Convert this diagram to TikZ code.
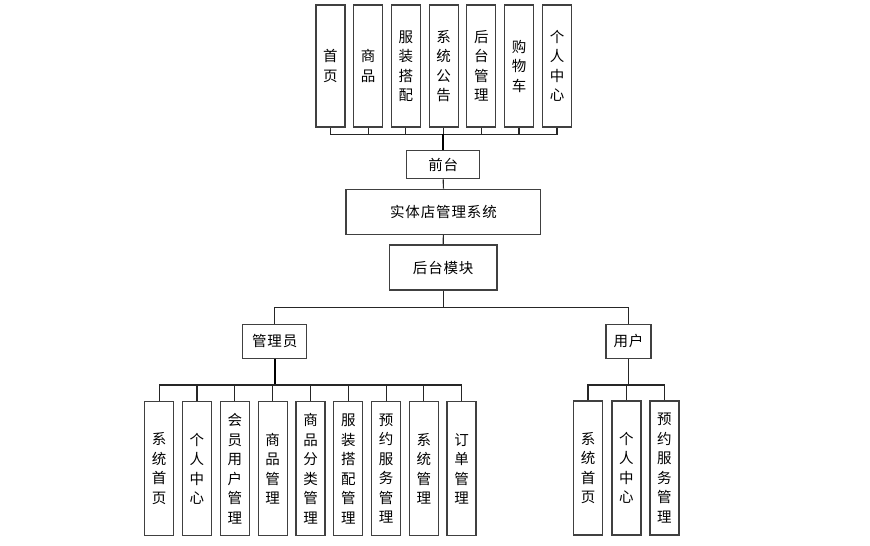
\documentclass[tikz,border=0pt]{standalone}
\usepackage{fontspec}
\newfontfamily\cjk{Noto Sans CJK SC}[LetterSpace=6]
\begin{document}
\begin{tikzpicture}[x=1pt,y=-1pt,
  box/.style={draw=black!75,line width=1.2pt,fill=white,inner sep=0pt,font=\cjk\fontsize{14.5}{19.5}\selectfont,align=center},
  vbox/.style={box,minimum width=29pt,minimum height=122pt},
  lbox/.style={box,minimum width=29pt,minimum height=134pt},
  conn/.style={draw=black!85,line width=1.2pt},
  thick conn/.style={draw=black,line width=1.8pt}]
\useasboundingbox (0,0) rectangle (870,546);
% top level
\node[vbox] (t1) at (330.4,66) {首\\页};
\node[vbox] (t2) at (368.1,66) {商\\品};
\node[vbox] (t3) at (405.8,66) {服\\装\\搭\\配};
\node[vbox] (t4) at (443.6,66) {系\\统\\公\\告};
\node[vbox] (t5) at (481.3,66) {后\\台\\管\\理};
\node[vbox] (t6) at (519.0,66) {购\\物\\车};
\node[vbox] (t7) at (557.0,66) {个\\人\\中\\心};
\node[box,minimum width=73pt,minimum height=28.5pt] (qt) at (443.3,164.6) {前台};
\node[box,minimum width=194.7pt,minimum height=45pt] (sys) at (443.4,211.8) {实体店管理系统};
\node[box,minimum width=107.7pt,minimum height=45pt] (ht) at (443.2,267.5) {后台模块};
\node[box,minimum width=64pt,minimum height=34pt] (adm) at (274.7,341.3) {管理员};
\node[box,minimum width=45pt,minimum height=34pt] (usr) at (628.5,341.3) {用户};
% admin children
\node[lbox] (a1) at (159.2,468.8) {系\\统\\首\\页};
\node[lbox] (a2) at (196.9,468.8) {个\\人\\中\\心};
\node[lbox] (a3) at (234.8,468.8) {会\\员\\用\\户\\管\\理};
\node[lbox] (a4) at (272.6,468.8) {商\\品\\管\\理};
\node[lbox] (a5) at (310.5,468.8) {商\\品\\分\\类\\管\\理};
\node[lbox] (a6) at (348.3,468.8) {服\\装\\搭\\配\\管\\理};
\node[lbox] (a7) at (386.2,468.8) {预\\约\\服\\务\\管\\理};
\node[lbox] (a8) at (423.8,468.8) {系\\统\\管\\理};
\node[lbox] (a9) at (461.5,468.8) {订\\单\\管\\理};
% user children
\node[lbox] (u1) at (588.0,468.0) {系\\统\\首\\页};
\node[lbox] (u2) at (626.4,468.0) {个\\人\\中\\心};
\node[lbox] (u3) at (664.4,468.0) {预\\约\\服\\务\\管\\理};
% connectors
\path (qt.north) ++(0,-15.5) coordinate (tbus);
\foreach \i in {1,...,7} \draw[conn] (t\i.south) |- (tbus);
\draw[thick conn] (tbus) -- (qt.north);
\draw[conn] (qt.south) -- (sys.north);
\draw[conn] (sys.south) -- (ht.north);
\path (ht.south) ++(0,16.7) coordinate (mbus);
\draw[conn] (ht.south) -- (mbus);
\draw[conn] (adm.north) |- (mbus);
\draw[conn] (usr.north) |- (mbus);
\path (adm.south) ++(0,26) coordinate (abus);
\draw[thick conn] (adm.south) -- (abus);
\foreach \i in {1,...,9} \draw[conn] (a\i.north) |- (abus);
\path (usr.south) ++(0,26) coordinate (ubus);
\draw[conn] (usr.south) -- (ubus);
\foreach \i in {1,...,3} \draw[conn] (u\i.north) |- (ubus);
\end{tikzpicture}
\end{document}
